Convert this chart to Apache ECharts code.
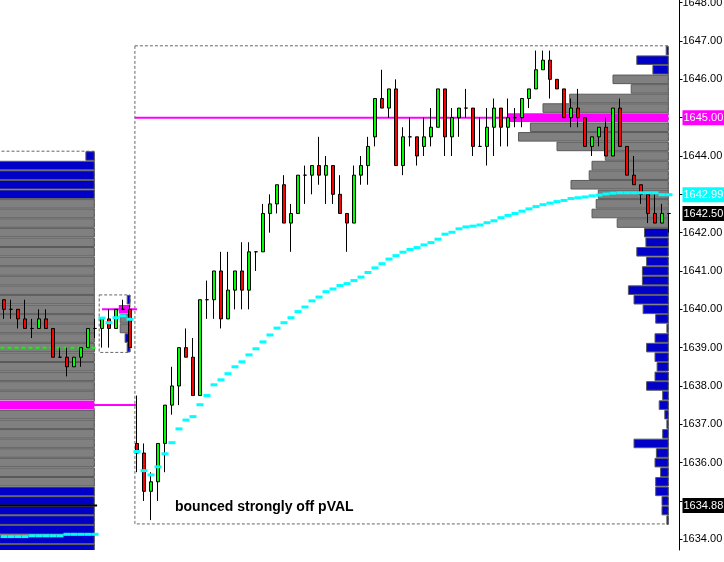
<!DOCTYPE html>
<html>
<head>
<meta charset="utf-8">
<script src="https://cdn.jsdelivr.net/npm/echarts@6/dist/echarts.min.js"></script>
<style>
html, body { margin: 0; padding: 0; background: #fff; }
#main { width: 724px; height: 562px; }
</style>
</head>
<body>
<div id="main"></div>
<script>
// bars: [open, close, low, high]
var candles = [
    [1640.25, 1640.0, 1639.75, 1640.25], [1640.0, 1640.0, 1639.75, 1640.25], [1640.0, 1639.75, 1639.5, 1640.0],
    [1639.75, 1639.5, 1639.5, 1640.25], [1639.5, 1639.5, 1639.25, 1639.75], [1639.5, 1639.75, 1639.5, 1640.0],
    [1639.75, 1639.5, 1639.5, 1640.0], [1639.5, 1638.75, 1638.75, 1639.5], [1638.75, 1638.75, 1638.75, 1639.0],
    [1638.75, 1638.5, 1638.25, 1639.0], [1638.5, 1638.75, 1638.5, 1638.75], [1638.75, 1639.0, 1638.5, 1639.0],
    [1639.0, 1639.5, 1639.0, 1639.5], [1639.5, 1639.5, 1639.25, 1639.75],
    // short session
    [1639.5, 1639.75, 1639.0, 1639.75], [1639.75, 1639.5, 1639.0, 1640.0], [1639.5, 1640.0, 1639.5, 1640.0],
    [1640.0, 1640.0, 1640.0, 1640.25], [1640.0, 1639.0, 1639.0, 1640.1],
    // main session
    [1636.5, 1636.25, 1635.75, 1637.75], [1636.25, 1635.25, 1635.0, 1636.5], [1635.25, 1635.5, 1634.5, 1635.75],
    [1635.5, 1636.5, 1635.0, 1636.5], [1636.5, 1637.5, 1635.75, 1637.5], [1637.5, 1638.0, 1637.25, 1638.5],
    [1638.0, 1639.0, 1637.5, 1639.0], [1639.0, 1638.75, 1638.75, 1639.5], [1638.75, 1637.75, 1637.75, 1639.25],
    [1637.75, 1640.25, 1637.75, 1640.25], [1640.25, 1640.25, 1639.75, 1640.75], [1640.25, 1641.0, 1639.75, 1641.0],
    [1641.0, 1639.75, 1639.5, 1641.5], [1639.75, 1640.5, 1639.75, 1641.5], [1640.5, 1641.0, 1640.0, 1641.0],
    [1641.0, 1640.5, 1640.0, 1641.75], [1640.5, 1641.5, 1640.0, 1641.75], [1641.5, 1641.5, 1641.0, 1641.5],
    [1641.5, 1642.5, 1641.5, 1642.75], [1642.5, 1642.75, 1642.0, 1643.0], [1642.75, 1643.25, 1642.5, 1643.25],
    [1643.25, 1642.25, 1642.25, 1643.5], [1642.25, 1642.5, 1641.5, 1642.75], [1642.5, 1643.5, 1642.5, 1643.5],
    [1643.5, 1643.5, 1642.75, 1643.75], [1643.5, 1643.75, 1643.0, 1643.75], [1643.75, 1643.5, 1643.25, 1644.5],
    [1643.5, 1643.75, 1642.75, 1644.0], [1643.75, 1643.0, 1642.75, 1643.75], [1643.0, 1642.5, 1642.5, 1643.5],
    [1642.5, 1642.25, 1641.5, 1642.5], [1642.25, 1643.5, 1642.25, 1643.75], [1643.5, 1643.75, 1643.25, 1644.0],
    [1643.75, 1644.25, 1643.25, 1644.5], [1644.5, 1645.5, 1644.25, 1645.5], [1645.5, 1645.25, 1645.25, 1646.25],
    [1645.25, 1645.75, 1645.0, 1645.75], [1645.75, 1643.75, 1643.75, 1646.0], [1643.75, 1644.5, 1643.5, 1644.75],
    [1644.5, 1644.5, 1644.25, 1645.0], [1644.5, 1644.0, 1643.75, 1644.5], [1644.25, 1644.5, 1644.0, 1645.0],
    [1644.5, 1644.75, 1644.25, 1645.25], [1644.75, 1645.75, 1644.75, 1645.75], [1645.75, 1644.5, 1644.0, 1645.75],
    [1644.5, 1645.0, 1644.0, 1645.25], [1645.0, 1645.25, 1644.5, 1645.25], [1645.25, 1645.25, 1645.0, 1645.75],
    [1645.25, 1644.25, 1644.0, 1645.25], [1644.25, 1644.25, 1644.25, 1645.0], [1644.25, 1644.75, 1643.75, 1645.25],
    [1644.75, 1645.25, 1644.0, 1645.5], [1645.25, 1644.75, 1644.25, 1645.25], [1644.75, 1645.0, 1644.25, 1645.5],
    [1645.0, 1645.0, 1644.75, 1645.25], [1645.0, 1645.5, 1644.75, 1645.5], [1645.5, 1645.75, 1645.25, 1645.75],
    [1645.75, 1646.25, 1645.75, 1646.75], [1646.25, 1646.5, 1646.25, 1646.75], [1646.5, 1646.0, 1645.5, 1646.75],
    [1646.0, 1645.75, 1645.75, 1646.0], [1645.75, 1645.0, 1645.0, 1645.75], [1645.0, 1645.25, 1644.75, 1645.5],
    [1645.25, 1645.0, 1644.75, 1645.75], [1645.0, 1644.25, 1644.25, 1645.0], [1644.25, 1644.5, 1644.0, 1644.5],
    [1644.5, 1644.75, 1644.25, 1644.75], [1644.75, 1644.0, 1644.0, 1645.0], [1644.0, 1645.25, 1644.0, 1645.25],
    [1645.25, 1644.25, 1644.25, 1645.5], [1644.25, 1643.5, 1643.5, 1644.25], [1643.5, 1643.25, 1643.25, 1644.0],
    [1643.25, 1643.0, 1642.75, 1643.25], [1643.0, 1642.5, 1642.25, 1643.0], [1642.5, 1642.25, 1642.25, 1643.0],
    [1642.25, 1642.5, 1642.25, 1642.75], [1642.5, 1642.5, 1642.0, 1642.5]
];

// vwap value at each bar
var vwap = [
    1634.07, 1634.07, 1634.07, 1634.07, 1634.09, 1634.09, 1634.09, 1634.09, 1634.09, 1634.13,
    1634.13, 1634.13, 1634.13, 1634.13,
    1639.77, 1639.65, 1639.78, 1639.83, 1639.74,
    1636.29, 1635.79, 1635.68, 1635.89, 1636.23, 1636.52, 1636.88, 1637.11, 1637.20, 1637.51,
    1637.75, 1638.03, 1638.16, 1638.32, 1638.50, 1638.63, 1638.81, 1638.97, 1639.15, 1639.33,
    1639.51, 1639.65, 1639.78, 1639.94, 1640.06, 1640.22, 1640.32, 1640.46, 1640.53, 1640.62,
    1640.67, 1640.75, 1640.84, 1640.96, 1641.08, 1641.19, 1641.31, 1641.40, 1641.49, 1641.56,
    1641.61, 1641.68, 1641.74, 1641.83, 1641.96, 1642.01, 1642.10, 1642.15, 1642.17, 1642.20,
    1642.26, 1642.31, 1642.39, 1642.45, 1642.50, 1642.56, 1642.62, 1642.68, 1642.73, 1642.77,
    1642.81, 1642.84, 1642.89, 1642.91, 1642.93, 1642.96, 1642.98, 1643.01, 1643.03, 1643.04,
    1643.04, 1643.04, 1643.04, 1643.04, 1643.04, 1642.99, 1642.99
];

var priceTicks = [1634, 1635, 1636, 1637, 1638, 1639, 1640, 1641, 1642, 1643, 1644, 1645, 1646, 1647, 1648];

// price labels on the right axis
var markPrices = [1645.00, 1642.99, 1642.50, 1634.88];
var markColors = ['#ff00ff', '#00ffff', '#000000', '#000000'];

// main session volume profile (0.25 bins)
var mainBins = [
    1646.75, 1646.5, 1646.25, 1646.0, 1645.75, 1645.5, 1645.25, 1645.0, 1644.75, 1644.5,
    1644.25, 1644.0, 1643.75, 1643.5, 1643.25, 1643.0, 1642.75, 1642.5, 1642.25, 1642.0,
    1641.75, 1641.5, 1641.25, 1641.0, 1640.75, 1640.5, 1640.25, 1640.0, 1639.75, 1639.5,
    1639.25, 1639.0, 1638.75, 1638.5, 1638.25, 1638.0, 1637.75, 1637.5, 1637.25, 1637.0,
    1636.75, 1636.5, 1636.25, 1636.0, 1635.75, 1635.5, 1635.25, 1635.0, 1634.75, 1634.5
];
var mainVol = [
    0.3, 4.5, 2.2, 7.9, 5.3, 14.1, 17.9, 23.0, 19.7, 21.4,
    15.9, 9.0, 10.9, 11.3, 13.9, 10.0, 10.3, 10.9, 7.3, 3.4,
    3.2, 4.5, 3.1, 3.7, 3.7, 5.7, 4.9, 3.6, 1.8, 0.2,
    1.9, 3.1, 1.9, 1.6, 1.9, 3.1, 0.8, 1.3, 0.5, 0.2,
    0.8, 4.9, 1.7, 1.9, 1.1, 1.8, 1.8, 0.9, 0.9, 0.2
];

// short session profile
var miniBins = [1640.25, 1640.0, 1639.75, 1639.5, 1639.25, 1639.0];
var miniVol = [0.4, 1.6, 1.4, 1.4, 0.7, 0.4];

// previous day profile (cut at the left edge)
var prevBins = [
    1644.0, 1643.75, 1643.5, 1643.25, 1643.0, 1642.75, 1642.5, 1642.25, 1642.0, 1641.75,
    1641.5, 1641.25, 1641.0, 1640.75, 1640.5, 1640.25, 1640.0, 1639.75, 1639.5, 1639.25,
    1639.0, 1638.75, 1638.5, 1638.25, 1638.0, 1637.75, 1637.5, 1637.25, 1637.0, 1636.75,
    1636.5, 1636.25, 1636.0, 1635.75, 1635.5, 1635.25, 1635.0, 1634.75, 1634.5, 1634.25,
    1634.0, 1633.75
];
var prevVol = [
    1.2, 16, 18, 17, 19, 21, 22, 24, 23, 25,
    27, 26, 28, 30, 29, 31, 33, 32, 34, 35,
    37, 36, 38, 40, 41, 43, 46, 42, 39, 37,
    35, 33, 30, 27, 24, 19, 18, 17, 16, 17,
    15, 14
];

var slots = [];
for (var i = 0; i < candles.length + 1; i++) {
    slots.push(String(i));
}
var nSlots = slots.length;
var half = 0.125;

var myChart = echarts.init(document.getElementById('main'));

function profileSeries(bins, vols, anchor, poc, vaLow, vaHigh) {
    return {
        type: 'custom',
        xAxisIndex: 1,
        clip: true,
        silent: true,
        z: 1,
        data: bins.map(function (p, k) { return [vols[k], p]; }),
        renderItem: function (params, api) {
            var v = api.value(0);
            var p = api.value(1);
            var a = api.coord([anchor, p + half]);
            var b = api.coord([anchor - v, p - half]);
            var fill = '#0000c8';
            if (p === poc) {
                fill = '#ff00ff';
            } else if (p >= vaLow && p <= vaHigh) {
                fill = '#808080';
            }
            return {
                type: 'rect',
                shape: { x: b[0], y: a[1] + 0.5, width: a[0] - b[0], height: b[1] - a[1] - 1 },
                style: { fill: fill, stroke: p === poc ? null : '#5a5a5a', lineWidth: 1 }
            };
        }
    };
}

// dashed frame of a session: [xFrom, xTo, priceLow, priceHigh]
function frameSeries(boxes) {
    return {
        type: 'custom',
        xAxisIndex: 1,
        clip: true,
        silent: true,
        z: 0,
        data: boxes,
        renderItem: function (params, api) {
            var a = api.coord([api.value(0), api.value(3)]);
            var b = api.coord([api.value(1), api.value(2)]);
            return {
                type: 'rect',
                shape: { x: a[0], y: a[1], width: b[0] - a[0], height: b[1] - a[1] },
                style: { fill: null, stroke: '#666', lineWidth: 1, lineDash: [3, 2] }
            };
        }
    };
}

function hLine(price, from, to, color, width, dash) {
    return {
        type: 'line',
        xAxisIndex: 1,
        silent: true,
        z: 2,
        symbol: 'none',
        data: [[from, price], [to, price]],
        lineStyle: { color: color, width: width, type: dash || 'solid' }
    };
}

// axis prices hidden under a coloured price box
function coveredByMark(v) {
    return markPrices.some(function (m) { return Math.abs(m - v) < 0.15; }) && markPrices.indexOf(v) < 0;
}

option = {
    animation: false,
    backgroundColor: '#fff',
    grid: { left: 0.5, right: 44.5, top: 0, bottom: 12, outerBoundsMode: 'none', containLabel: false },
    xAxis: [
        { type: 'category', data: slots, boundaryGap: true, show: false },
        { type: 'value', min: 0, max: nSlots, show: false }
    ],
    yAxis: {
        type: 'value',
        position: 'right',
        min: 1633.72,
        max: 1648.07,
        axisLine: { show: true, onZero: false, lineStyle: { color: '#000', width: 1 } },
        axisTick: { show: true, length: 3, customValues: priceTicks, lineStyle: { color: '#000' } },
        axisLabel: {
            customValues: priceTicks,
            margin: 3,
            color: '#000',
            fontFamily: 'Liberation Sans',
            fontSize: 11,
            formatter: function (v) { return coveredByMark(v) ? '' : v.toFixed(2); }
        },
        splitLine: { show: false }
    },
    graphic: [
        {
            type: 'text',
            left: 175,
            top: 500,
            silent: true,
            style: {
                text: 'bounced strongly off pVAL',
                font: 'bold 14px "Liberation Sans"',
                fill: '#000'
            }
        }
    ],
    series: [
        frameSeries([[-2, 13.4, 1633.5, 1644.125], [14.1, 18.5, 1638.875, 1640.375], [19.2, 95.4, 1634.4, 1646.875]]),
        profileSeries(prevBins, prevVol, 13.4, 1637.5, 1635.5, 1642.75),
        profileSeries(miniBins, miniVol, 18.5, 1640.0, 1639.5, 1639.75),
        profileSeries(mainBins, mainVol, 95.4, 1645.0, 1642.25, 1646.0),
        hLine(1637.5, 13.4, 19.5, '#ff00ff', 2),
        hLine(1640.0, 14.5, 19.5, '#ff00ff', 2),
        hLine(1645.0, 19.2, 95.4, '#ff00ff', 2),
        hLine(1639.0, -1, 13.8, '#00ff00', 2, [4, 3]),
        hLine(1634.88, -1, 13.8, '#000000', 2),
        {
            type: 'candlestick',
            xAxisIndex: 0,
            z: 3,
            silent: true,
            barWidth: 4,
            data: candles,
            itemStyle: {
                color: '#00ff00',
                color0: '#ff0000',
                borderColor: '#000',
                borderColor0: '#000',
                borderColorDoji: '#000',
                borderWidth: 1
            }
        },
        {
            type: 'scatter',
            xAxisIndex: 0,
            z: 4,
            silent: true,
            symbol: 'rect',
            symbolSize: [7, 3],
            data: vwap.map(function (v, k) { return [k, v]; }),
            itemStyle: { color: '#00ffff', opacity: 1 },
            markLine: {
                silent: true,
                symbol: 'none',
                animation: false,
                lineStyle: { width: 0, color: 'rgba(0,0,0,0)' },
                label: {
                    position: 'end',
                    distance: 3,
                    color: '#fff',
                    fontFamily: 'Liberation Sans',
                    fontSize: 11,
                    lineHeight: 11,
                    padding: [2, 1, 2, 1],
                    formatter: function (p) { return p.value.toFixed(2); }
                },
                data: markPrices.map(function (v, k) {
                    return { yAxis: v, label: { backgroundColor: markColors[k] } };
                })
            }
        }
    ]
};

if (option && typeof option === "object") {
    myChart.setOption(option, true);
}
</script>
</body>
</html>
